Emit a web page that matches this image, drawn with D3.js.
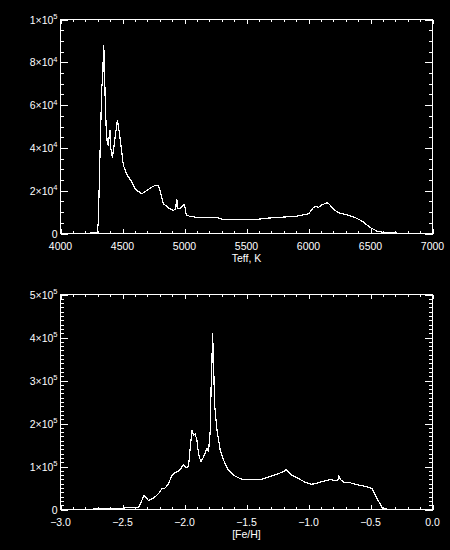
<!DOCTYPE html>
<html><head><meta charset="utf-8">
<script src="https://cdn.jsdelivr.net/npm/d3@7"></script>
<style>
html,body{margin:0;padding:0;background:#000;}
svg{display:block;background:#000;}
text{font-family:"Liberation Sans",Arial,sans-serif;font-size:10.5px;fill:#fff;}
</style></head><body>
<svg id="c" width="450" height="550"></svg>
<script>
// ---- Top panel: Teff histogram ----
const teff = [4240,4297,4305,4319,4333,4341,4346,4352,4360,4368,4376,4386,4395,4400,4405,4418,4430,4445,4459,4470,4486,4507,4525,4548,4565,4583,4600,4616,4656,4696,4740,4763,4790,4810,4830,4870,4911,4930,4935,4939,4945,4965,4985,4992,5000,5014,5046,5127,5262,5288,5342,5557,5666,5908,6002,6037,6056,6082,6110,6150,6163,6204,6244,6325,6379,6433,6500,6554,6607,6700,6769,6850];
const teffCounts = [300,400,5300,38000,68500,72000,87600,85000,63800,49800,43000,41200,47000,48200,40000,35700,40000,47000,52900,49000,42000,31850,29000,26370,25000,23280,21000,20140,18600,20140,21800,22480,22480,18500,13900,12000,10770,11500,16000,15460,11600,11850,12800,13440,13400,8760,7960,7350,7650,6870,6400,6400,7170,8100,9220,12030,12650,12300,13440,14370,14000,11100,9690,8430,7350,5760,2670,1080,470,200,140,50];
const teffMajorTicks = [4000,4500,5000,5500,6000,6500,7000];
const teffTickLabels = ["4000","4500","5000","5500","6000","6500","7000"];
const teffYMajor = [0,20000,40000,60000,80000,100000];
const teffYLabels = [["0",""],["2×10","4"],["4×10","4"],["6×10","4"],["8×10","4"],["1×10","5"]];

// ---- Bottom panel: [Fe/H] histogram ----
const feh = [-2.737,-2.506,-2.479,-2.400,-2.372,-2.358,-2.326,-2.291,-2.250,-2.210,-2.183,-2.156,-2.129,-2.102,-2.075,-2.040,-2.008,-1.986,-1.968,-1.940,-1.927,-1.914,-1.900,-1.887,-1.868,-1.847,-1.819,-1.806,-1.792,-1.784,-1.779,-1.774,-1.766,-1.758,-1.738,-1.712,-1.685,-1.645,-1.604,-1.550,-1.523,-1.389,-1.334,-1.308,-1.254,-1.200,-1.179,-1.160,-1.132,-1.079,-1.025,-0.977,-0.931,-0.877,-0.823,-0.783,-0.764,-0.756,-0.742,-0.716,-0.662,-0.607,-0.540,-0.486,-0.446,-0.401,-0.365];
const fehCounts = [1600,1600,4000,4000,4000,12000,32700,21000,26400,36700,48400,50000,60050,79400,85700,91100,104400,97400,100000,184600,172900,176000,161200,130100,110500,122200,141800,135500,184600,305400,340000,408900,352100,247000,184600,137900,114500,91120,79440,71700,69400,69400,74070,77100,81800,88800,92700,86000,79400,71700,63080,58400,61450,66120,69400,67000,68000,78740,70000,63080,62000,57710,53740,48360,25000,1600,1000];
const fehMajorTicks = [-3.0,-2.5,-2.0,-1.5,-1.0,-0.5,0.0];
const fehTickLabels = ["\u22123.0","\u22122.5","\u22122.0","\u22121.5","\u22121.0","\u22120.5","0.0"];
const fehYMajor = [0,100000,200000,300000,400000,500000];
const fehYLabels = [["0",""],["1×10","5"],["2×10","5"],["3×10","5"],["4×10","5"],["5×10","5"]];

const svg = d3.select("#c");

function panel(cfg){
  const x = d3.scaleLinear().domain(cfg.xDomain).range([60.5,432.5]);
  const y = d3.scaleLinear().domain(cfg.yDomain).range([cfg.bottom, cfg.top]);
  const g = svg.append("g");
  const st = {stroke:"#fff","stroke-width":1,fill:"none","shape-rendering":"crispEdges"};
  const L = (x1,y1,x2,y2)=>{const l=g.append("line").attr("x1",x1).attr("y1",y1).attr("x2",x2).attr("y2",y2);for(const k in st)l.attr(k,st[k]);};
  // box
  g.append("rect").attr("x",x.range()[0]).attr("y",cfg.top).attr("width",x.range()[1]-x.range()[0]).attr("height",cfg.bottom-cfg.top)
    .attr("fill","none").attr("stroke","#fff").attr("shape-rendering","crispEdges");
  const xl = 0.02*(cfg.bottom-cfg.top), yl = 0.02*(x.range()[1]-x.range()[0]);
  // x ticks
  const xMinor = d3.range(cfg.xDomain[0], cfg.xDomain[1]+cfg.xMinorStep/2, cfg.xMinorStep);
  xMinor.forEach(v=>{ const px=Math.round(x(v))+0.5; L(px,cfg.bottom,px,cfg.bottom-xl/2); L(px,cfg.top,px,cfg.top+xl/2); });
  cfg.xMajor.forEach(v=>{ const px=Math.round(x(v))+0.5; L(px,cfg.bottom,px,cfg.bottom-xl); L(px,cfg.top,px,cfg.top+xl); });
  const yMinor = d3.range(cfg.yDomain[0], cfg.yDomain[1]+cfg.yMinorStep/2, cfg.yMinorStep);
  yMinor.forEach(v=>{ const py=Math.round(y(v))+0.5; L(x.range()[0],py,x.range()[0]+yl/2,py); L(x.range()[1],py,x.range()[1]-yl/2,py); });
  cfg.yMajor.forEach(v=>{ const py=Math.round(y(v))+0.5; L(x.range()[0],py,x.range()[0]+yl,py); L(x.range()[1],py,x.range()[1]-yl,py); });
  // x labels
  cfg.xMajor.forEach((v,i)=>{
    g.append("text").attr("x",x(v)).attr("y",cfg.bottom+16).attr("text-anchor","middle").text(cfg.xLabels[i]);
  });
  g.append("text").attr("x",(x.range()[0]+x.range()[1])/2).attr("y",cfg.bottom+28).attr("text-anchor","middle").text(cfg.title);
  // y labels
  cfg.yMajor.forEach((v,i)=>{
    const t = g.append("text").attr("x",57.5).attr("y",y(v)+4).attr("text-anchor","end");
    t.append("tspan").text(cfg.yLabels[i][0]);
    if(cfg.yLabels[i][1]) t.append("tspan").attr("dy",-4.5).attr("font-size","7.5px").text(cfg.yLabels[i][1]);
  });
  // curve
  const line = d3.line().x((d,i)=>x(cfg.xs[i])).y(d=>y(d)).curve(d3.curveLinear);
  g.append("path").datum(cfg.ys).attr("d",line).attr("fill","none").attr("stroke","#fff").attr("stroke-width",1.2)
    .attr("stroke-linejoin","round").attr("shape-rendering","crispEdges");
}

panel({xDomain:[4000,7000], yDomain:[0,100000], top:19.5, bottom:233.5,
  xMajor:teffMajorTicks, xLabels:teffTickLabels, xMinorStep:100,
  yMajor:teffYMajor, yLabels:teffYLabels, yMinorStep:5000,
  xs:teff, ys:teffCounts, title:"Teff, K"});

panel({xDomain:[-3,0], yDomain:[0,500000], top:294.5, bottom:509.5,
  xMajor:fehMajorTicks, xLabels:fehTickLabels, xMinorStep:0.1,
  yMajor:fehYMajor, yLabels:fehYLabels, yMinorStep:10000,
  xs:feh, ys:fehCounts, title:"[Fe/H]"});
</script>
</body></html>
